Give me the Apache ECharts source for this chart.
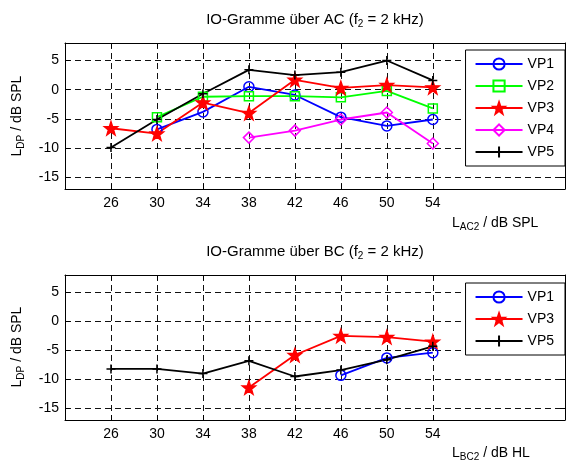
<!DOCTYPE html>
<html>
<head>
<meta charset="utf-8">
<script src="https://cdn.jsdelivr.net/npm/echarts@6/dist/echarts.min.js"></script>
<style>
html, body { margin: 0; padding: 0; background: #fff; }
#chart { width: 566px; height: 464px; }
</style>
</head>
<body>
<div id="chart"></div>
<script>
var xTicks = [26, 30, 34, 38, 42, 46, 50, 54];
var yTicks = [-15, -10, -5, 0, 5];

// IO-Gramme über AC
var acVP1 = [null, -6.8, -3.8, 0.5, -0.9, -4.7, -6.2, -5.1];
var acVP2 = [null, -4.7, -1.2, -1.1, -1.1, -1.3, -0.2, -3.2];
var acVP3 = [-6.6, -7.5, -2.2, -4.0, 1.7, 0.3, 0.8, 0.4];
var acVP4 = [null, null, null, -8.2, -7.0, -5.1, -3.9, -9.2];
var acVP5 = [-9.9, -5.1, -0.7, 3.4, 2.5, 3.0, 5.0, 1.6];

// IO-Gramme über BC
var bcVP1 = [null, null, null, null, null, -9.3, -6.3, -5.4];
var bcVP3 = [null, null, null, -11.4, -5.8, -2.5, -2.7, -3.5];
var bcVP5 = [-8.2, -8.2, -9.0, -6.8, -9.5, -8.4, -6.6, -4.3];

var FONT = 'Liberation Sans';
var STAR = 'path://M0,-10L2.35,-3.24L9.51,-3.09L3.8,1.24L5.88,8.09L0,4L-5.88,8.09L-3.8,1.24L-9.51,-3.09L-2.35,-3.24Z';
var PLUS = 'path://M0,-1L0,1M-1,0L1,0';

var styles = {
	VP1: { color: '#0000ff', symbol: 'circle', size: 10, hollow: true },
	VP2: { color: '#00ff00', symbol: 'rect', size: 9, hollow: true },
	VP3: { color: '#ff0000', symbol: STAR, size: 13, hollow: false },
	VP4: { color: '#ff00ff', symbol: 'diamond', size: 11, hollow: true },
	VP5: { color: '#000000', symbol: PLUS, size: 9, hollow: true }
};

function pts(arr) {
	var out = [];
	for (var i = 0; i < xTicks.length; i++) {
		if (arr[i] !== null) out.push([xTicks[i], arr[i]]);
	}
	return out;
}

function makeSeries(name, arr, idx) {
	var s = styles[name];
	return {
		name: name,
		type: 'line',
		xAxisIndex: idx * 2,
		yAxisIndex: idx * 2,
		data: pts(arr),
		symbol: s.symbol,
		symbolSize: s.size,
		showAllSymbol: true,
		animation: false,
		lineStyle: { color: s.color, width: 1.8 },
		itemStyle: {
			color: s.hollow ? 'rgba(0,0,0,0)' : s.color,
			borderColor: s.color,
			borderWidth: 1.5
		}
	};
}

var gridDash = { show: true, lineStyle: { color: '#111', type: [6, 4], width: 1 } };
var axLine = { show: true, onZero: false, lineStyle: { color: '#000', width: 1 } };

function xAxes(idx) {
	var base = {
		type: 'value', gridIndex: idx, min: 22, max: 65.5,
		axisLine: axLine,
		axisTick: { show: true, inside: true, length: 5, customValues: xTicks, lineStyle: { color: '#000' } }
	};
	return [
		Object.assign({}, base, {
			position: 'bottom',
			axisLabel: { customValues: xTicks, margin: 7, color: '#000', fontSize: 14, fontFamily: FONT },
			splitLine: gridDash
		}),
		Object.assign({}, base, {
			position: 'top',
			axisLabel: { show: false },
			splitLine: { show: false }
		})
	];
}

function yAxes(idx) {
	var base = {
		type: 'value', gridIndex: idx, min: -17, max: 8,
		axisLine: axLine,
		axisTick: { show: true, inside: true, length: 5, customValues: yTicks, lineStyle: { color: '#000' } }
	};
	return [
		Object.assign({}, base, {
			position: 'left',
			axisLabel: { customValues: yTicks, margin: 6, color: '#000', fontSize: 14, fontFamily: FONT },
			splitLine: gridDash
		}),
		Object.assign({}, base, {
			position: 'right',
			axisLabel: { show: false },
			splitLine: { show: false }
		})
	];
}

function legend(names, top) {
	return {
		orient: 'vertical',
		right: 1,
		top: top,
		data: names,
		itemWidth: 47,
		itemHeight: 14,
		itemGap: 8,
		padding: [7, 11, 7, 9],
		backgroundColor: '#fff',
		borderColor: '#000',
		borderWidth: 1,
		borderRadius: 0,
		selectedMode: false,
		textStyle: { color: '#000', fontSize: 14, fontFamily: FONT }
	};
}

var rich = {
	a: { fontSize: 14, fontFamily: FONT, fill: '#000' },
	s: { fontSize: 10, fontFamily: FONT, fill: '#000', padding: [9, 0, 0, 0] }
};
var richTitle = {
	a: { fontSize: 15, fontFamily: FONT, fill: '#000' },
	s: { fontSize: 10, fontFamily: FONT, fill: '#000', padding: [9, 0, 0, 0] }
};

function label(text, x, y, r, rot, align) {
	return {
		type: 'text', x: x, y: y, rotation: rot || 0,
		style: { text: text, rich: r, align: align || 'center', verticalAlign: 'middle' }
	};
}

var chart = echarts.init(document.getElementById('chart'));
chart.setOption({
	backgroundColor: '#fff',
	animation: false,
	grid: [
		{ left: 65, top: 43, right: 1, height: 146 },
		{ left: 65, top: 275, right: 1, height: 145 }
	],
	xAxis: xAxes(0).concat(xAxes(1)),
	yAxis: yAxes(0).concat(yAxes(1)),
	legend: [
		legend(['VP1', 'VP2', 'VP3', 'VP4', 'VP5'], 50),
		legend(['VP1', 'VP3', 'VP5'], 283)
	],
	series: [
		makeSeries('VP1', acVP1, 0),
		makeSeries('VP2', acVP2, 0),
		makeSeries('VP3', acVP3, 0),
		makeSeries('VP4', acVP4, 0),
		makeSeries('VP5', acVP5, 0),
		makeSeries('VP1', bcVP1, 1),
		makeSeries('VP3', bcVP3, 1),
		makeSeries('VP5', bcVP5, 1)
	],
	graphic: [
		label('{a|IO-Gramme über AC (f}{s|2}{a| = 2 kHz)}', 315, 20, richTitle),
		label('{a|IO-Gramme über BC (f}{s|2}{a| = 2 kHz)}', 315, 252, richTitle),
		label('{a|L}{s|AC2}{a| / dB SPL}', 452, 223, rich, 0, 'left'),
		label('{a|L}{s|BC2}{a| / dB HL}', 452, 453, rich, 0, 'left'),
		label('{a|L}{s|DP}{a| / dB SPL}', 17, 116, rich, Math.PI / 2),
		label('{a|L}{s|DP}{a| / dB SPL}', 17, 347, rich, Math.PI / 2)
	]
});
</script>
</body>
</html>
